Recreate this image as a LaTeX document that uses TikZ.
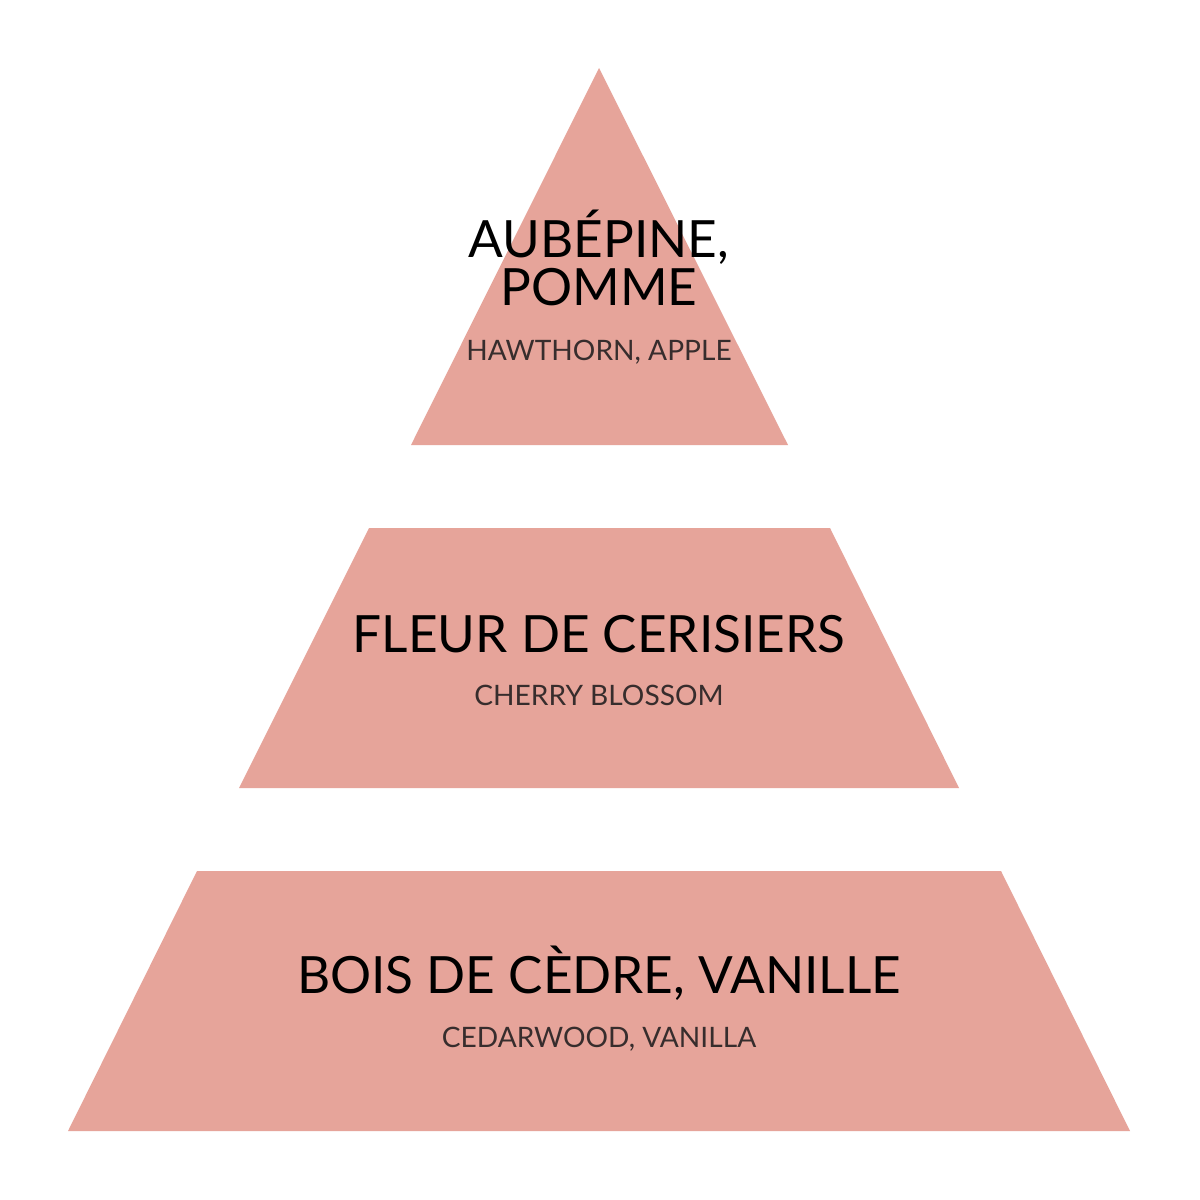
\documentclass[tikz,border=0pt]{standalone}
\usepackage{fontspec}
\setmainfont{Lato}
\definecolor{rose}{RGB}{230,164,154}
\definecolor{ink}{RGB}{55,45,45}
\tikzset{tier/.style={fill=rose, draw=none},
  note/.style={anchor=base, inner sep=0pt, text=black, font=\fontsize{14.6}{13.4}\selectfont, align=center},
  sub/.style={anchor=base, inner sep=0pt, text=ink, font=\fontsize{8}{9}\selectfont}}

\begin{document}
\begin{tikzpicture}[x=0.01cm, y=-0.01cm]
    \useasboundingbox (0,0) rectangle (1200,1200);
    \fill[white] (0,0) rectangle (1200,1200);
    \fill[tier] (599,68) -- (788,445) -- (411,445) -- cycle;
    \fill[tier] (369,528) -- (830,528) -- (959,788) -- (239,788) -- cycle;
    \fill[tier] (197,871) -- (1001,871) -- (1130,1131) -- (68,1131) -- cycle;
    \node[note] (top) at (599,305) {AUBÉPINE,\\POMME};
    \node[sub] (topsub) at (599,360) {HAWTHORN, APPLE};
    \node[note] (mid) at (599,652) {FLEUR DE CERISIERS};
    \node[sub] (midsub) at (599,705) {CHERRY BLOSSOM};
    \node[note] (bot) at (599,993) {BOIS DE CÈDRE, VANILLE};
    \node[sub] (botsub) at (599,1047) {CEDARWOOD, VANILLA};
\end{tikzpicture}
\end{document}
